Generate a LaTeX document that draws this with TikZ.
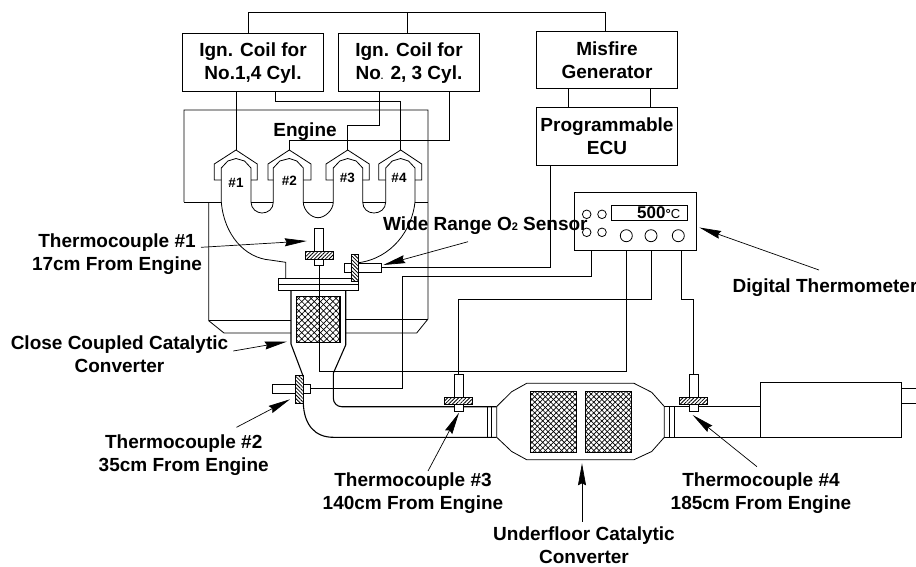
\documentclass[tikz,border=0pt]{standalone}
\usepackage{fontspec}
\setmainfont{Liberation Sans}
\usetikzlibrary{arrows.meta,patterns.meta}
\tikzset{
  wire/.style={black,line width=.8pt},
  ctlbox/.style={draw,line width=.9pt,inner sep=0pt,outer sep=0pt,align=center,font=\fontsize{19}{23}\selectfont\bfseries},
  tubebox/.style={draw,line width=.8pt,fill=white,inner sep=0pt,outer sep=0pt},
  hatchR/.style={draw,line width=.8pt,inner sep=0pt,outer sep=0pt,preaction={fill=white},pattern={Lines[angle=45,distance=2.6pt,line width=.8pt]}},
  hatchL/.style={draw,line width=.8pt,inner sep=0pt,outer sep=0pt,preaction={fill=white},pattern={Lines[angle=-45,distance=2.6pt,line width=.8pt]}},
  meshbox/.style={draw,line width=1.1pt,inner sep=0pt,outer sep=0pt,
    preaction={pattern={Lines[angle=45,distance=#1,line width=.7pt]}},
    postaction={pattern={Lines[angle=-45,distance=#1,line width=.7pt]}}},
  lbl/.style={inner sep=0pt,align=center,anchor=base,font=\fontsize{19}{23}\selectfont\bfseries},
  cyl/.style={inner sep=0pt,anchor=base,font=\fontsize{13.5}{14}\selectfont\bfseries},
  lead/.style={line width=.7pt,-{Stealth[length=22pt,width=8pt,inset=2pt]}}
}
\begin{document}
\begin{tikzpicture}[x=1pt,y=-1pt]
\useasboundingbox (0,0) rectangle (916,566);
% control boxes
\node[ctlbox,minimum width=140.6pt,minimum height=58pt] (coilA) at (253,62.6) {Ign. Coil for\\No.1,4 Cyl.};
\node[ctlbox,minimum width=140.6pt,minimum height=58pt] (coilB) at (409,62.6) {Ign. Coil for\\No{\fontsize{9}{9}\selectfont.} 2, 3 Cyl.};
\node[ctlbox,minimum width=140.6pt,minimum height=57.7pt] (misfire) at (607,59.8) {Misfire\\Generator};
\node[ctlbox,minimum width=140.6pt,minimum height=57.7pt] (ecu) at (607,136.2) {Programmable\\ECU};
\node[ctlbox,minimum width=122pt,minimum height=57.4pt] (therm) at (635.7,221.4) {};
\node[ctlbox,minimum width=76.4pt,minimum height=15.3pt] (dispbox) at (649.5,212.6) {};
\node[inner sep=0pt,anchor=base west] (dispval) at (637,218.5) {\fontsize{17}{17}\selectfont\bfseries 500{\fontsize{13}{13}\selectfont °\mdseries C}};
\foreach \nm/\xx/\yy/\rr in {a/586.7/214.3/4.3,b/602/214.3/4.3,c/586.7/232.3/4.3,d/602/232.3/4.3,e/626.3/235.7/6,f/651/235.7/6,g/678.3/235.7/6}
  \node[draw,circle,line width=.8pt,inner sep=0pt,minimum size=2*\rr pt] (knob\nm) at (\xx,\yy) {};
% engine block
\draw[wire] (184,202) -- (184,110) -- (428,110) -- (428,319) -- (416.7,333) -- (346,333);
\draw[wire] (346,319) -- (428,319);
\draw[wire] (208.7,202) -- (208.7,320.7) -- (224,333) -- (291,333);
\draw[wire] (208.7,320.7) -- (291,320.7);
\foreach \xa/\xb in {184/221.3,251/273.3,303.3/333.3,362.7/385.7,415/428}
  \draw[wire] (\xa,202) -- (\xb,202);
\foreach \nm/\cx/\xol/\xor/\xil/\xir in {A/236/214.3/257.3/221.3/251,B/289.3/268/311/273.3/303.3,C/347.7/326/369.3/333.3/362.7,D/400.7/378.7/421.7/385.7/415}{
  \coordinate (cyl\nm) at (\cx,150);
  \draw[wire] (\xil,180) -- (\xol,180) -- (\xol,164) -- (cyl\nm) -- (\xor,164) -- (\xor,180) -- (\xir,180);
  \draw[wire] (\xil,202) -- (\xil,168) -- (\xil+6.5,161) -- (\cx,158.5) -- (\xir-6.5,161) -- (\xir,168) -- (\xir,202);
}
\draw[wire] (251,202) .. controls (251,209) and (257,213) .. (262,213) .. controls (268,213) and (273.3,209) .. (273.3,202);
\draw[wire] (303.3,202) .. controls (303.3,210) and (311,217.7) .. (318,217.7) .. controls (325,217.7) and (333.3,210) .. (333.3,202);
\draw[wire] (362.7,202) .. controls (362.7,209) and (368,213) .. (374,213) .. controls (380,213) and (385.7,209) .. (385.7,202);
\draw[wire] (221.3,202) .. controls (224,235) and (245,258) .. (270,260) -- (285.7,262.3) -- (285.7,278.3);
\draw[wire] (415,202) .. controls (412,230) and (392,258) .. (358.7,262.7);
\node[lbl] (engine) at (305,136.7) {Engine};
\node[cyl] (numA) at (236,187.7) {\#1};
\node[cyl] (numB) at (289.3,185.7) {\#2};
\node[cyl] (numC) at (347.3,182.7) {\#3};
\node[cyl] (numD) at (399,182.7) {\#4};
% close coupled converter and exhaust
\draw[wire] (278.3,278.3) rectangle (358.3,290.3);
\draw[wire] (278.3,284.3) -- (358.3,284.3);
\draw[wire,line width=1.1pt] (291,290.3) -- (291,344) -- (302.7,375);
\draw[wire,line width=1.1pt] (345.7,290.3) -- (345.7,345) -- (333.3,373.3) -- (333.3,398) .. controls (333.3,403) and (337,406.7) .. (341.7,406.7) -- (496.7,406.7);
\draw[wire,line width=1.1pt] (303.3,403) .. controls (304,425) and (315,437.3) .. (333.3,437.3) -- (496.7,437.3);
\node[meshbox=4.4pt,minimum width=43.3pt,minimum height=45.6pt] (meshA) at (318.3,319.5) {};
% underfloor converter and muffler
\draw[wire] (496.7,406.5) -- (511.7,391.7) -- (526.7,383.3) -- (634,383.3) -- (651.7,392.3) -- (664.3,406.5)
  -- (664.3,437.3) -- (651.7,451.5) -- (634,459.7) -- (526.7,459.7) -- (511.7,451.5) -- (496.7,437.3) -- cycle;
\foreach \xx in {487.3,491.5,669.3,674}
  \draw[wire] (\xx,406.5) -- (\xx,437.3);
\node[meshbox=3.8pt,minimum width=46pt,minimum height=61.3pt] (meshB) at (553.7,421.7) {};
\node[meshbox=3.8pt,minimum width=46.4pt,minimum height=61.3pt] (meshC) at (608.5,421.7) {};
\draw[wire] (664.3,406.5) -- (760.7,406.5);
\draw[wire] (664.3,437.3) -- (760.7,437.3);
\node[draw,line width=.9pt,inner sep=0pt,outer sep=0pt,minimum width=140.6pt,minimum height=55.3pt] (muffler) at (831,409.6) {};
\draw[wire] (muffler.east |- 0,388.3) -- (916,388.3);
\draw[wire] (muffler.east |- 0,403.3) -- (916,403.3);
% thermocouples
\foreach \nm/\xx/\yy in {A/319.1/228.3,C/458.8/374,D/693.6/374}{
  \node[tubebox,minimum width=9pt,minimum height=23.4pt] (tc\nm) at (\xx,\yy+11.7) {};
  \node[tubebox,minimum width=9pt,minimum height=6.6pt] (stub\nm) at (\xx,\yy+33.9) {};
  \node[hatchR,minimum width=28pt,minimum height=7.2pt] (plate\nm) at (\xx,\yy+27) {};
}
\node[tubebox,minimum width=22.3pt,minimum height=9pt] (tcB) at (283.9,388.8) {};
\node[tubebox,minimum width=6.7pt,minimum height=9pt] (stubB) at (306.7,388.8) {};
\node[hatchL,minimum width=8pt,minimum height=28pt] (plateB) at (299.3,389) {};
\node[tubebox,minimum width=37pt,minimum height=9pt] (tubeO) at (362.8,267.8) {};
\node[hatchL,minimum width=7.7pt,minimum height=27.7pt] (plateO) at (354.9,267.9) {};
% wiring
\draw[wire] (coilA.north -| 248,0) -- ++(0,-21.2) -| (misfire.north -| 605.3,0);
\draw[wire] (coilB.north -| 407,0) -- ++(0,-21.2);
\foreach \xx in {568.7,650.7}
  \draw[wire] (misfire.south -| \xx,0) -- (ecu.north -| \xx,0);
\draw[wire] (coilA.south -| cylA) -- (cylA);
\draw[wire] (coilA.south -| 275.3,0) -- ++(0,9.3) -| (cylD);
\draw[wire] (coilB.south -| 379.7,0) -- ++(0,33.6) -| (cylC);
\draw[wire] (coilB.south -| 449.3,0) -- ++(0,49) -| (cylB);
\draw[wire] (ecu.south -| 550.3,0) |- (tubeO.east);
\draw[wire] (stubA.south) -- ++(0,105.7) -| (therm.south -| 626,0);
\draw[wire] (therm.south -| 651,0) -- ++(0,49.3) -| (tcC.north);
\draw[wire] (therm.south -| 681.7,0) -- ++(0,49.3) -| (tcD.north);
\draw[wire] (therm.south -| 591.7,0) -- ++(0,26.7) -- ++(-189,0) |- (stubB.east);
% labels and leaders
\node[lbl] (lblA) at (117,270) {Thermocouple \#1\\17cm From Engine};
\node[lbl,anchor=base west] (lblO) at (383,230.7) {Wide Range O{\fontsize{11}{11}\selectfont 2} Sensor};
\node[lbl,anchor=base west] (lblT) at (732.5,292) {Digital Thermometer};
\node[lbl] (lblCC) at (119.5,372.7) {Close Coupled Catalytic\\Converter};
\node[lbl] (lblB) at (183.7,471.7) {Thermocouple \#2\\35cm From Engine};
\node[lbl] (lblC) at (413,509) {Thermocouple \#3\\140cm From Engine};
\node[lbl] (lblD) at (761,509) {Thermocouple \#4\\185cm From Engine};
\node[lbl] (lblU) at (584,563) {Underfloor Catalytic\\Converter};
\foreach \nm/\xa/\ya/\xb/\yb in {A/201/247.3/306.7/241,O/468/241.7/383.3/265,T/819/270/699.3/227.5,CC/233.3/351/286.7/341.7,B/236.5/427.3/290/399.3,C/428/471/459/412.7,D/757/466.7/692.7/415,U/582/521.7/582/463.3}{
  \coordinate (tail\nm) at (\xa,\ya);
  \coordinate (tip\nm) at (\xb,\yb);
  \draw[lead] (tail\nm) -- (tip\nm);
}
\end{tikzpicture}
\end{document}
